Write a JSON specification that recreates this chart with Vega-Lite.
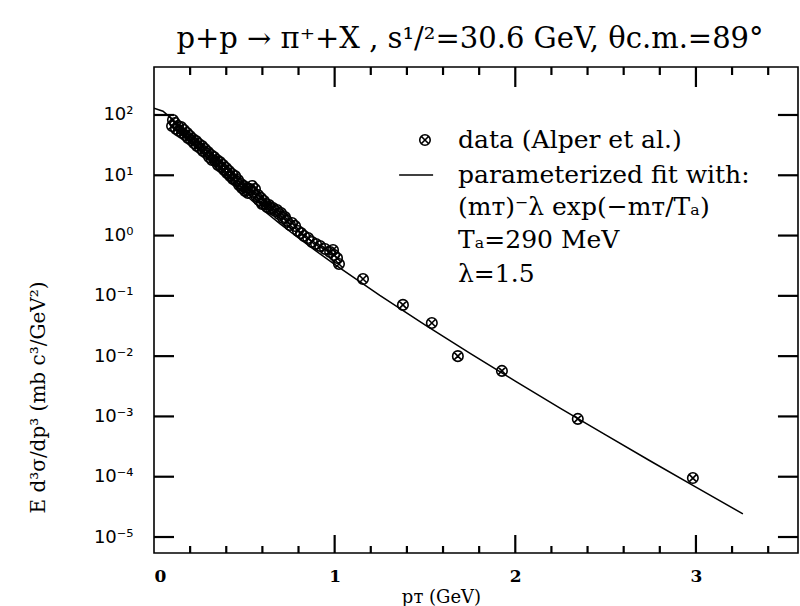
{
  "$schema": "https://vega.github.io/schema/vega-lite/v6.json",
  "width": 644,
  "height": 486,
  "autosize": {"type": "none"},
  "padding": {"left": 154, "top": 67, "right": 2, "bottom": 53},
  "background": "white",
  "title": {
    "text": "p+p → π⁺+X , s¹/²=30.6 GeV, θc.m.=89°",
    "font": "DejaVu Serif",
    "fontSize": 29,
    "fontWeight": "normal",
    "color": "black",
    "offset": 12,
    "dx": -6
  },
  "config": {
    "view": {"stroke": "black", "strokeWidth": 1.6},
    "axis": {"domain": false, "grid": false, "ticks": false, "labelColor": "black", "titleColor": "black"}
  },
  "datasets": {
    "fit": [
      {"pt": 0.0, "v": 130},
      {"pt": 0.05, "v": 115.2},
      {"pt": 0.1, "v": 85.3},
      {"pt": 0.15, "v": 58.3},
      {"pt": 0.2, "v": 39.3},
      {"pt": 0.25, "v": 26.7},
      {"pt": 0.3, "v": 18.4},
      {"pt": 0.35, "v": 12.9},
      {"pt": 0.4, "v": 9.23},
      {"pt": 0.45, "v": 6.68},
      {"pt": 0.5, "v": 4.90},
      {"pt": 0.55, "v": 3.63},
      {"pt": 0.6, "v": 2.71},
      {"pt": 0.7, "v": 1.55},
      {"pt": 0.8, "v": 0.911},
      {"pt": 0.9, "v": 0.546},
      {"pt": 1.0, "v": 0.3325},
      {"pt": 1.25, "v": 0.1017},
      {"pt": 1.5, "v": 0.0329},
      {"pt": 1.75, "v": 0.01108},
      {"pt": 2.0, "v": 0.003843},
      {"pt": 2.25, "v": 0.001364},
      {"pt": 2.5, "v": 0.000493},
      {"pt": 2.75, "v": 0.0001806},
      {"pt": 3.0, "v": 0.0000671},
      {"pt": 3.26, "v": 0.0000242}
    ],
    "pts": [
      {"pt": 0.100, "v": 65.8}, {"pt": 0.105, "v": 82.6}, {"pt": 0.116, "v": 73.6}, {"pt": 0.122, "v": 58.6},
      {"pt": 0.133, "v": 65.8}, {"pt": 0.138, "v": 54.3}, {"pt": 0.150, "v": 63.2}, {"pt": 0.155, "v": 50.3},
      {"pt": 0.166, "v": 56.4}, {"pt": 0.172, "v": 46.6}, {"pt": 0.183, "v": 50.3}, {"pt": 0.188, "v": 41.6},
      {"pt": 0.199, "v": 44.9}, {"pt": 0.205, "v": 38.5}, {"pt": 0.216, "v": 40.0}, {"pt": 0.221, "v": 34.3},
      {"pt": 0.233, "v": 37.0}, {"pt": 0.238, "v": 30.6}, {"pt": 0.249, "v": 33.0}, {"pt": 0.255, "v": 28.4},
      {"pt": 0.266, "v": 30.6}, {"pt": 0.271, "v": 25.3}, {"pt": 0.282, "v": 27.3}, {"pt": 0.288, "v": 23.4},
      {"pt": 0.299, "v": 24.3}, {"pt": 0.305, "v": 20.1}, {"pt": 0.316, "v": 21.7}, {"pt": 0.321, "v": 17.9},
      {"pt": 0.332, "v": 20.1}, {"pt": 0.338, "v": 17.2}, {"pt": 0.349, "v": 17.9}, {"pt": 0.354, "v": 14.8},
      {"pt": 0.365, "v": 16.6}, {"pt": 0.371, "v": 13.7}, {"pt": 0.382, "v": 14.8}, {"pt": 0.388, "v": 12.2},
      {"pt": 0.399, "v": 13.2}, {"pt": 0.404, "v": 10.9}, {"pt": 0.415, "v": 11.8}, {"pt": 0.421, "v": 9.73},
      {"pt": 0.432, "v": 10.5}, {"pt": 0.437, "v": 8.68}, {"pt": 0.449, "v": 9.73}, {"pt": 0.454, "v": 8.05},
      {"pt": 0.465, "v": 8.36}, {"pt": 0.471, "v": 6.91}, {"pt": 0.482, "v": 7.17}, {"pt": 0.487, "v": 6.16},
      {"pt": 0.498, "v": 6.65}, {"pt": 0.504, "v": 5.50}, {"pt": 0.515, "v": 6.16}, {"pt": 0.520, "v": 5.09},
      {"pt": 0.532, "v": 5.93}, {"pt": 0.543, "v": 6.65}, {"pt": 0.548, "v": 5.29}, {"pt": 0.559, "v": 5.93},
      {"pt": 0.565, "v": 4.54}, {"pt": 0.576, "v": 4.72}, {"pt": 0.581, "v": 3.89}, {"pt": 0.592, "v": 4.21},
      {"pt": 0.598, "v": 3.34}, {"pt": 0.609, "v": 3.75}, {"pt": 0.620, "v": 3.34}, {"pt": 0.626, "v": 2.98},
      {"pt": 0.637, "v": 3.22}, {"pt": 0.648, "v": 2.77}, {"pt": 0.659, "v": 2.87}, {"pt": 0.670, "v": 2.56},
      {"pt": 0.681, "v": 2.66}, {"pt": 0.692, "v": 2.28}, {"pt": 0.703, "v": 2.37}, {"pt": 0.714, "v": 1.96},
      {"pt": 0.725, "v": 2.03}, {"pt": 0.736, "v": 1.75}, {"pt": 0.753, "v": 1.50}, {"pt": 0.764, "v": 1.62},
      {"pt": 0.781, "v": 1.44}, {"pt": 0.797, "v": 1.19}, {"pt": 0.814, "v": 1.10}, {"pt": 0.831, "v": 0.985},
      {"pt": 0.853, "v": 0.912}, {"pt": 0.875, "v": 0.783}, {"pt": 0.897, "v": 0.726}, {"pt": 0.919, "v": 0.673},
      {"pt": 0.947, "v": 0.600}, {"pt": 0.975, "v": 0.535}, {"pt": 0.991, "v": 0.577}, {"pt": 0.997, "v": 0.477},
      {"pt": 1.013, "v": 0.425}, {"pt": 1.024, "v": 0.338}, {"pt": 1.157, "v": 0.19}, {"pt": 1.378, "v": 0.0708},
      {"pt": 1.538, "v": 0.0355}, {"pt": 1.682, "v": 0.0100}, {"pt": 1.926, "v": 0.00569}, {"pt": 2.346, "v": 0.00091},
      {"pt": 2.983, "v": 0.000095}
    ],
    "xmaj": [{"t": 1}, {"t": 2}, {"t": 3}],
    "xmin": [{"t": 0.2}, {"t": 0.4}, {"t": 0.6}, {"t": 0.8}, {"t": 1.2}, {"t": 1.4}, {"t": 1.6}, {"t": 1.8},
             {"t": 2.2}, {"t": 2.4}, {"t": 2.6}, {"t": 2.8}, {"t": 3.2}, {"t": 3.4}],
    "ydec": [{"t": 0.00001}, {"t": 0.0001}, {"t": 0.001}, {"t": 0.01}, {"t": 0.1}, {"t": 1}, {"t": 10}, {"t": 100}],
    "legsym": [{"pt": 1.50, "v": 38.4}],
    "legline": [{"pt": 1.357, "pt2": 1.545, "v": 10.1}],
    "legtext": [
      {"pt": 1.683, "v": 38.4, "t": "data (Alper et al.)"},
      {"pt": 1.683, "v": 10.1, "t": "parameterized fit with:"},
      {"pt": 1.683, "v": 2.98, "t": "(mᴛ)⁻λ exp(−mᴛ/Tₐ)"},
      {"pt": 1.683, "v": 0.845, "t": "Tₐ=290 MeV"},
      {"pt": 1.683, "v": 0.23, "t": "λ=1.5"}
    ]
  },
  "layer": [
    {
      "data": {"name": "fit"},
      "mark": {"type": "line", "color": "black", "strokeWidth": 1.5, "clip": true},
      "encoding": {
        "x": {"field": "pt", "type": "quantitative",
          "scale": {"domain": [0, 3.565], "nice": false, "zero": false},
          "axis": {"orient": "bottom", "values": [0, 1, 2, 3], "format": "d", "labelPadding": 15,
            "labelFont": "DejaVu Serif", "labelFontWeight": "bold", "labelFontSize": 17,
            "title": "pᴛ (GeV)", "titleFont": "DejaVu Serif", "titleFontSize": 18, "titleFontWeight": "normal",
            "titleX": 287, "titleY": 44, "titleBaseline": "middle", "titleAlign": "center"}},
        "y": {"field": "v", "type": "quantitative",
          "scale": {"type": "log", "domain": [0.00000543, 625], "nice": false},
          "axis": {"orient": "left", "values": [0.00001, 0.0001, 0.001, 0.01, 0.1, 1, 10, 100], "labelPadding": 21,
            "labelExpr": "'10' + ['⁻⁵','⁻⁴','⁻³','⁻²','⁻¹','⁰','¹','²'][round(log(datum.value)/LN10)+5]",
            "labelFont": "DejaVu Sans", "labelFontSize": 18,
            "title": "E d³σ/dp³ (mb c³/GeV²)", "titleFont": "DejaVu Serif", "titleFontSize": 20, "titleFontWeight": "normal",
            "titleX": -116, "titleY": 330, "titleBaseline": "middle", "titleAlign": "center", "titleAngle": -90}}
      }
    },
    {
      "data": {"name": "xmaj"},
      "mark": {"type": "rule", "color": "black", "strokeWidth": 2.2},
      "encoding": {
        "x": {"field": "t", "type": "quantitative"},
        "y": {"datum": 0.00000543, "type": "quantitative"},
        "y2": {"datum": 0.0000108}
      }
    },
    {
      "data": {"name": "xmaj"},
      "mark": {"type": "rule", "color": "black", "strokeWidth": 2.2},
      "encoding": {
        "x": {"field": "t", "type": "quantitative"},
        "y": {"datum": 625, "type": "quantitative"},
        "y2": {"datum": 291}
      }
    },
    {
      "data": {"name": "xmin"},
      "mark": {"type": "rule", "color": "black", "strokeWidth": 2.2},
      "encoding": {
        "x": {"field": "t", "type": "quantitative"},
        "y": {"datum": 0.00000543, "type": "quantitative"},
        "y2": {"datum": 0.0000071}
      }
    },
    {
      "data": {"name": "xmin"},
      "mark": {"type": "rule", "color": "black", "strokeWidth": 2.2},
      "encoding": {
        "x": {"field": "t", "type": "quantitative"},
        "y": {"datum": 625, "type": "quantitative"},
        "y2": {"datum": 460}
      }
    },
    {
      "data": {"name": "ydec"},
      "mark": {"type": "rule", "color": "black", "strokeWidth": 2.2},
      "encoding": {
        "y": {"field": "t", "type": "quantitative"},
        "x": {"datum": 0, "type": "quantitative"},
        "x2": {"datum": 0.1107}
      }
    },
    {
      "data": {"name": "ydec"},
      "mark": {"type": "rule", "color": "black", "strokeWidth": 2.2},
      "encoding": {
        "y": {"field": "t", "type": "quantitative"},
        "x": {"datum": 3.565, "type": "quantitative"},
        "x2": {"datum": 3.454}
      }
    },
    {
      "data": {"name": "pts"},
      "mark": {"type": "point", "filled": false, "stroke": "black", "strokeWidth": 1.6, "size": 110, "opacity": 1,
        "shape": "M-1,0A1,1,0,1,1,1,0A1,1,0,1,1,-1,0ZM-0.62,-0.62L0.62,0.62M-0.62,0.62L0.62,-0.62"},
      "encoding": {
        "x": {"field": "pt", "type": "quantitative"},
        "y": {"field": "v", "type": "quantitative"}
      }
    },
    {
      "data": {"name": "legsym"},
      "mark": {"type": "point", "filled": false, "stroke": "black", "strokeWidth": 1.6, "size": 110, "opacity": 1,
        "shape": "M-1,0A1,1,0,1,1,1,0A1,1,0,1,1,-1,0ZM-0.62,-0.62L0.62,0.62M-0.62,0.62L0.62,-0.62"},
      "encoding": {
        "x": {"field": "pt", "type": "quantitative"},
        "y": {"field": "v", "type": "quantitative"}
      }
    },
    {
      "data": {"name": "legline"},
      "mark": {"type": "rule", "color": "black", "strokeWidth": 1.5},
      "encoding": {
        "x": {"field": "pt", "type": "quantitative"},
        "x2": {"field": "pt2"},
        "y": {"field": "v", "type": "quantitative"}
      }
    },
    {
      "data": {"name": "legtext"},
      "mark": {"type": "text", "align": "left", "baseline": "middle", "font": "DejaVu Serif", "fontSize": 25, "color": "black"},
      "encoding": {
        "x": {"field": "pt", "type": "quantitative"},
        "y": {"field": "v", "type": "quantitative"},
        "text": {"field": "t"}
      }
    }
  ]
}
